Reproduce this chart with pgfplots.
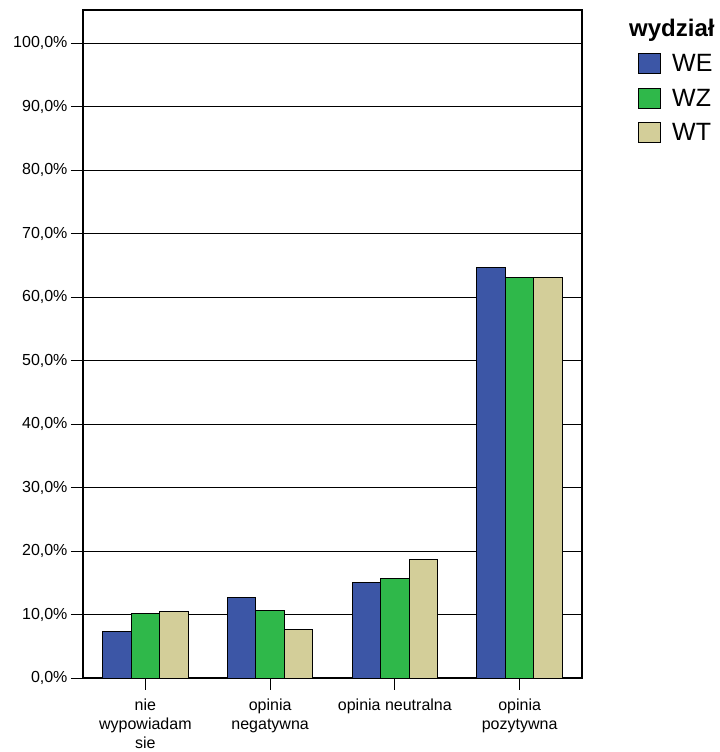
\documentclass[border=0pt]{standalone}
\usepackage{fontspec}
\setmainfont{Liberation Sans}
\usepackage{pgfplots}
\pgfplotsset{compat=1.18}
\definecolor{cWE}{HTML}{3C56A6}
\definecolor{cWZ}{HTML}{2FB84A}
\definecolor{cWT}{HTML}{D3CE99}
\begin{document}
\begin{tikzpicture}
\path[use as bounding box] (-83bp,-74bp) rectangle (637bp,678bp);
\begin{axis}[
  at={(0,0)}, anchor=south west,
  scale only axis, width=499bp, height=668bp,
  xmin=-0.5, xmax=3.5, ymin=0, ymax=105.2,
  ybar=0pt, bar width=28.5bp,
  axis line style={line width=1.3pt},
  tick align=outside, major tick length=12bp,
  tick style={black, line width=1pt},
  ytick pos=left, xtick pos=bottom,
  ytick={0,10,...,100},
  ymajorgrids, grid style={black, line width=0.9pt},
  xtick={0,1,2,3},
  xticklabels={nie\\wypowiadam\\sie, opinia\\negatywna, opinia neutralna, opinia\\pozytywna},
  xticklabel style={align=center, yshift=-5bp, font=\fontsize{16bp}{19bp}\selectfont},
  yticklabel style={font=\fontsize{16bp}{19bp}\selectfont},
  /pgf/number format/assume math mode=true,
  yticklabel={\pgfmathprintnumber[fixed,fixed zerofill,precision=1,use comma]{\tick}\%},
  legend style={draw=none, fill=none, at={(555bp,626bp)}, anchor=north west,
    font=\fontsize{25bp}{28bp}\selectfont, row sep=12bp, inner sep=0pt,
    /tikz/every odd column/.append style={column sep=9bp}},
  legend cell align=left,
  legend image code/.code={\draw[#1, draw=black, line width=1pt] (0bp,-10bp) rectangle (22bp,10bp);},
  every axis plot/.append style={draw=black, line width=1pt},
]
\addplot[fill=cWE] coordinates {(0,7.4) (1,12.65) (2,15.1) (3,64.7)};
\addplot[fill=cWZ] coordinates {(0,10.2) (1,10.6) (2,15.6) (3,63.15)};
\addplot[fill=cWT] coordinates {(0,10.4) (1,7.7) (2,18.6) (3,63.15)};
\legend{WE, WZ, WT}
\end{axis}
\node[anchor=base west, font=\fontsize{24bp}{26bp}\selectfont\bfseries, inner sep=0pt] at (546bp,641bp) {wydział};
\end{tikzpicture}
\end{document}
